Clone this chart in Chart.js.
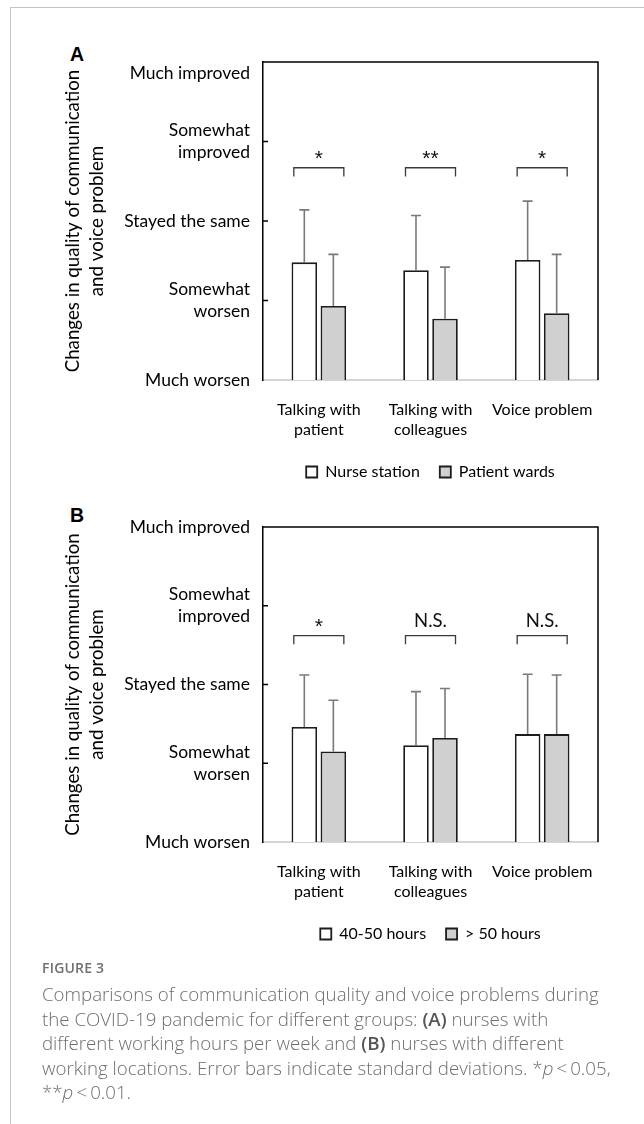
<!DOCTYPE html>
<html><head><meta charset="utf-8">
<script src="https://cdn.jsdelivr.net/npm/chart.js@4.4.1/dist/chart.umd.min.js"></script>
<style>
html,body{margin:0;padding:0;background:#fff;}
body{width:644px;height:1124px;position:relative;overflow:hidden;}
#frameTop{position:absolute;left:10px;top:7px;width:634px;height:0;border-top:1.5px solid #c4c4c4;}
#frameLeft{position:absolute;left:10px;top:7px;width:0;height:1117px;border-left:1.5px solid #c4c4c4;}
.wrap{position:absolute;left:11px;width:633px;}
#wrapA{top:8px;height:490px;}
#wrapB{top:498px;height:462px;}
.plabel{position:absolute;left:70px;font:bold 19.5px "Liberation Sans",Arial,sans-serif;line-height:20px;color:#000;}
#caption{position:absolute;left:42px;top:954px;width:602px;font-family:"Open Sans",sans-serif;color:#6e6e6e;}
#figno{font-size:14px;font-weight:600;line-height:28px;letter-spacing:0.2px;color:#707070;}
#captext{font-size:18.7px;font-weight:300;line-height:24.6px;white-space:nowrap;}
#captext b{font-weight:600;color:#555;}
</style></head>
<body>
<div id="frameTop"></div><div id="frameLeft"></div>
<div class="plabel" style="top:44px;">A</div>
<div class="plabel" style="top:505px;">B</div>
<div class="wrap" id="wrapA"><canvas id="chartA"></canvas></div>
<div class="wrap" id="wrapB"><canvas id="chartB"></canvas></div>
<div id="caption">
<div id="figno">FIGURE 3</div>
<div id="captext">Comparisons of communication quality and voice problems during<br>the COVID-19 pandemic for different groups: <b>(A)</b> nurses with<br>different working hours per week and <b>(B)</b> nurses with different<br>working locations. Error bars indicate standard deviations. *<i>p</i>&thinsp;&lt;&thinsp;0.05,<br>**<i>p</i>&thinsp;&lt;&thinsp;0.01.</div>
</div>
<script>
// ---- data ----
const categories = [["Talking with","patient"],["Talking with","colleagues"],"Voice problem"];
const yTitle = ["Changes in quality of communication","and voice problem"];
const yTickLabelsA = ["Much worsen",["Somewhat","worsen"],"Stayed the same",["Somewhat","improved"],["","Much improved"]];
const yTickLabelsB = ["Much worsen",["Somewhat","worsen"],"Stayed the same",["Somewhat","improved"],"Much improved"];

const seriesNamesA = ["Nurse station","Patient wards"];
const nurseStationMean = [2.48,2.38,2.51];
const nurseStationSD   = [0.66,0.69,0.74];
const patientWardsMean = [1.93,1.77,1.84];
const patientWardsSD   = [0.65,0.65,0.74];
const sigA = ["*","**","*"];
const bracketLevelA = 3.67;
const bracketTipA = 3.56;

const seriesNamesB = ["40-50 hours","> 50 hours"];
const hours4050Mean = [2.46,2.23,2.37];
const hours4050SD   = [0.66,0.68,0.76];
const hoursOver50Mean = [2.15,2.32,2.37];
const hoursOver50SD   = [0.65,0.63,0.75];
const sigB = ["*","N.S.","N.S."];
const bracketLevelB = 3.62;
const bracketTipB = 3.51;

const FONT = "Lato, 'Open Sans', sans-serif";

const annotPlugin = {
  id:'annot',
  afterDatasetsDraw(chart, args, opts){
    const ctx = chart.ctx, xs = chart.scales.x, ys = chart.scales.y, ca = chart.chartArea;
    ctx.save();
    // error bars
    ctx.strokeStyle = '#7a7a7a'; ctx.lineWidth = 1.6;
    chart.data.datasets.forEach((ds,i)=>{
      const meta = chart.getDatasetMeta(i);
      meta.data.forEach((el,j)=>{
        const top = ys.getPixelForValue(ds.data[j] + ds.sd[j]);
        ctx.beginPath();
        ctx.moveTo(el.x, el.y); ctx.lineTo(el.x, top);
        ctx.moveTo(el.x-5, top); ctx.lineTo(el.x+5, top);
        ctx.stroke();
      });
    });
    // brackets + significance
    const cw = xs.getPixelForValue(1) - xs.getPixelForValue(0);
    ctx.strokeStyle = '#3a3a3a'; ctx.lineWidth = 1.3;
    ctx.fillStyle = '#111'; ctx.textAlign='center'; ctx.textBaseline='alphabetic';
    opts.sig.forEach((s,j)=>{
      const cx = xs.getPixelForValue(j), h = cw*0.224;
      const y = ys.getPixelForValue(opts.level), yt = ys.getPixelForValue(opts.tip);
      ctx.beginPath();
      ctx.moveTo(cx-h, yt); ctx.lineTo(cx-h, y); ctx.lineTo(cx+h, y); ctx.lineTo(cx+h, yt);
      ctx.stroke();
      if (s.indexOf('*') >= 0) {
        ctx.font = "21px 'Liberation Sans', Arial, sans-serif";
        ctx.fillText(s, cx, y - 3);
      } else {
        ctx.font = "18.5px " + FONT;
        ctx.fillText(s, cx, y - 9);
      }
    });
    // inward ticks
    ctx.strokeStyle = '#000'; ctx.lineWidth = 1.5;
    [2,3,4].forEach(v=>{
      const y = ys.getPixelForValue(v);
      ctx.beginPath(); ctx.moveTo(ca.left, y); ctx.lineTo(ca.left+5, y); ctx.stroke();
    });
    // frame top/right
    ctx.beginPath();
    ctx.moveTo(ca.left, ca.top); ctx.lineTo(ca.right, ca.top); ctx.lineTo(ca.right, ca.bottom);
    ctx.stroke();
    ctx.restore();
  }
};

function makeChart(id, names, m1, s1, m2, s2, tickLabels, sig, level, tip, areaTop){
  return new Chart(document.getElementById(id), {
    type:'bar',
    data:{
      labels: categories,
      datasets:[
        {label:names[0], data:m1, sd:s1, backgroundColor:'#ffffff', borderColor:'#1c1c1c', borderWidth:1.8},
        {label:names[1], data:m2, sd:s2, backgroundColor:'#d0d0d0', borderColor:'#1c1c1c', borderWidth:1.8}
      ]
    },
    options:{
      responsive:true, maintainAspectRatio:false, animation:false,
      layout:{padding:{top:areaTop, right:46, bottom:8, left:0}},
      datasets:{bar:{categoryPercentage:0.52, barPercentage:0.88}},
      plugins:{
        legend:{position:'bottom', fullSize:false,
          labels:{font:{family:FONT,size:16}, color:'#000', boxWidth:11, boxHeight:11, padding:20}},
        tooltip:{enabled:false},
        annot:{sig:sig, level:level, tip:tip}
      },
      scales:{
        x:{
          grid:{display:false, drawTicks:false},
          border:{display:true, color:'#d4d4d4', width:2},
          ticks:{font:{family:FONT,size:16,lineHeight:1.25}, color:'#000', padding:20, maxRotation:0, autoSkip:false},
          afterFit:(s)=>{ s.height = 64; }
        },
        y:{
          min:1, max:5,
          grid:{display:false, drawTicks:false},
          border:{display:true, color:'#000', width:1.5},
          ticks:{stepSize:1, font:{family:FONT,size:17.5,lineHeight:1.25}, color:'#000', padding:13,
            callback:(v)=>tickLabels[v-1]},
          title:{display:true, text:yTitle, font:{family:FONT,size:18.7,lineHeight:'24px'}, color:'#000',
            padding:{top:50,bottom:0}},
          afterFit:(s)=>{ s.width = 252; }
        }
      }
    },
    plugins:[annotPlugin]
  });
}

makeChart('chartA', seriesNamesA, nurseStationMean, nurseStationSD, patientWardsMean, patientWardsSD, yTickLabelsA, sigA, bracketLevelA, bracketTipA, 54);
makeChart('chartB', seriesNamesB, hours4050Mean, hours4050SD, hoursOver50Mean, hoursOver50SD, yTickLabelsB, sigB, bracketLevelB, bracketTipB, 29);
</script>
</body></html>
